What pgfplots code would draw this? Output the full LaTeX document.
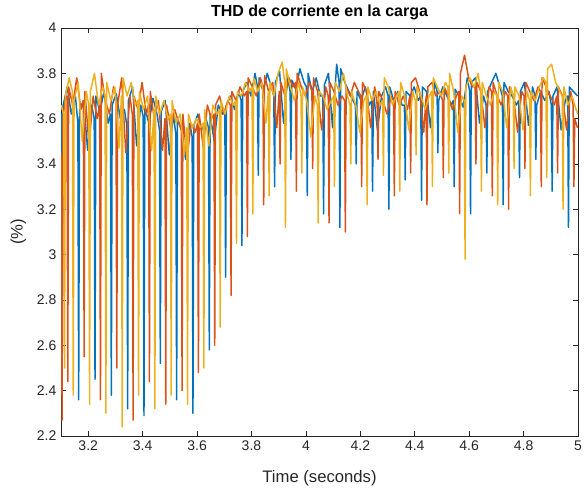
\documentclass[border=0pt]{standalone}
\usepackage{pgfplots}
\pgfplotsset{compat=1.18}
\usepackage{fontspec}
\setmainfont{Liberation Sans}

\definecolor{mblue}{rgb}{0,0.447,0.741}
\definecolor{mred}{rgb}{0.85,0.325,0.098}
\definecolor{myellow}{rgb}{0.929,0.694,0.125}
\definecolor{axgray}{rgb}{0.15,0.15,0.15}

\begin{document}
\begin{tikzpicture}
% marco fijo: 584x491 px a 0.75 pt/px
\useasboundingbox (-45.75pt,-41.25pt) rectangle (392.25pt,327pt);
\begin{axis}[
  scale only axis,
  width=387.75pt, height=306pt,
  xmin=3.1, xmax=5, ymin=2.2, ymax=4,
  xtick={3.2,3.4,...,5.01},
  ytick={2.2,2.4,...,4.01},
  tick align=inside,
  major tick length=3.5pt,
  axis line style={axgray, line width=0.5pt},
  tick style={axgray, line width=0.5pt},
  /pgf/number format/assume math mode=true,
  tick label style={font=\fontsize{10.5}{12}\selectfont, text=axgray},
  title={\bfseries THD de corriente en la carga},
  every axis title/.style={at={(axis description cs:0.5,1.039)}, anchor=center,
    font=\fontsize{12}{14}\selectfont},
  xlabel={Time (seconds)},
  ylabel={(\%)},
  every axis x label/.style={at={(axis description cs:0.5,-0.103)}, anchor=center,
    font=\fontsize{12.5}{14}\selectfont, text=axgray},
  every axis y label/.style={at={(axis description cs:-0.0825,0.5)}, anchor=center,
    rotate=90, font=\fontsize{12.5}{14}\selectfont, text=axgray},
  every axis plot/.append style={line width=1.1pt, line join=round},
]
% azul
\addplot[mblue] coordinates {
(3.100,3.58)
(3.102,3.62)(3.105,2.62)(3.108,3.66)(3.123,3.74)(3.138,3.62)(3.153,3.70)
(3.162,3.58)(3.165,2.36)(3.168,3.64)(3.183,3.68)(3.198,3.46)(3.213,3.66)
(3.222,3.60)(3.225,2.45)(3.228,3.70)(3.243,3.63)(3.258,3.72)(3.273,3.58)
(3.282,3.62)(3.285,2.38)(3.288,3.66)(3.303,3.71)(3.318,3.60)(3.333,3.64)
(3.342,3.57)(3.345,2.32)(3.348,3.68)(3.363,3.74)(3.378,3.48)(3.393,3.66)
(3.402,3.61)(3.405,2.29)(3.408,3.65)(3.423,3.58)(3.438,3.69)(3.453,3.62)
(3.462,3.55)(3.465,2.52)(3.468,3.63)(3.483,3.68)(3.498,3.44)(3.513,3.62)
(3.522,3.53)(3.525,2.36)(3.528,3.60)(3.543,3.55)(3.558,3.42)(3.573,3.58)
(3.582,3.52)(3.585,2.30)(3.588,3.57)(3.603,3.62)(3.618,3.55)(3.633,3.60)
(3.642,3.56)(3.645,2.58)(3.648,3.62)(3.663,3.50)(3.678,3.66)(3.693,3.62)
(3.702,3.64)(3.705,2.90)(3.708,3.66)(3.723,3.70)(3.738,3.64)(3.753,3.72)
(3.762,3.68)(3.765,3.04)(3.768,3.72)(3.783,3.76)(3.798,3.70)(3.813,3.80)
(3.822,3.74)(3.825,3.35)(3.828,3.78)(3.843,3.72)(3.858,3.80)(3.873,3.74)
(3.882,3.70)(3.885,3.30)(3.888,3.76)(3.903,3.81)(3.918,3.58)(3.933,3.78)
(3.942,3.72)(3.945,3.42)(3.948,3.77)(3.963,3.73)(3.978,3.82)(3.993,3.76)
(4.002,3.74)(4.005,3.26)(4.008,3.80)(4.023,3.72)(4.038,3.78)(4.053,3.70)
(4.062,3.70)(4.065,3.18)(4.068,3.75)(4.083,3.80)(4.098,3.56)(4.113,3.84)
(4.122,3.76)(4.125,3.12)(4.128,3.82)(4.143,3.76)(4.158,3.72)(4.173,3.68)
(4.182,3.66)(4.185,3.40)(4.188,3.72)(4.203,3.68)(4.218,3.74)(4.233,3.66)
(4.242,3.68)(4.245,3.28)(4.248,3.72)(4.263,3.55)(4.278,3.70)(4.293,3.74)
(4.302,3.70)(4.305,3.20)(4.308,3.74)(4.323,3.68)(4.338,3.72)(4.353,3.66)
(4.362,3.66)(4.365,3.33)(4.368,3.72)(4.383,3.70)(4.398,3.74)(4.413,3.68)
(4.422,3.70)(4.425,3.24)(4.428,3.74)(4.443,3.72)(4.458,3.56)(4.473,3.76)
(4.482,3.72)(4.485,3.45)(4.488,3.68)(4.503,3.74)(4.518,3.70)(4.533,3.66)
(4.542,3.68)(4.545,3.30)(4.548,3.73)(4.563,3.70)(4.578,3.65)(4.593,3.78)
(4.602,3.72)(4.605,3.18)(4.608,3.76)(4.623,3.78)(4.638,3.58)(4.653,3.70)
(4.662,3.66)(4.665,3.36)(4.668,3.72)(4.683,3.76)(4.698,3.80)(4.713,3.74)
(4.722,3.70)(4.725,3.22)(4.728,3.76)(4.743,3.72)(4.758,3.70)(4.773,3.66)
(4.782,3.68)(4.785,3.34)(4.788,3.72)(4.803,3.76)(4.818,3.57)(4.833,3.74)
(4.842,3.70)(4.845,3.42)(4.848,3.66)(4.863,3.72)(4.878,3.68)(4.893,3.72)
(4.902,3.66)(4.905,3.28)(4.908,3.70)(4.923,3.74)(4.938,3.55)(4.953,3.68)
(4.962,3.70)(4.965,3.12)(4.968,3.74)(4.983,3.72)(4.998,3.70)
};
% naranja
\addplot[mred] coordinates {
(3.100,3.45)(3.104,2.27)(3.107,3.60)(3.115,3.68)
(3.122,3.70)(3.125,2.44)(3.128,3.74)(3.143,3.66)(3.158,3.78)(3.173,3.64)
(3.182,3.68)(3.185,2.55)(3.188,3.72)(3.203,3.48)(3.218,3.70)(3.233,3.60)
(3.242,3.66)(3.245,2.36)(3.248,3.80)(3.263,3.68)(3.278,3.62)(3.293,3.74)
(3.302,3.70)(3.305,2.50)(3.308,3.66)(3.323,3.78)(3.338,3.45)(3.353,3.70)
(3.362,3.62)(3.365,2.27)(3.368,3.70)(3.383,3.64)(3.398,3.76)(3.413,3.62)
(3.422,3.66)(3.425,2.44)(3.428,3.72)(3.443,3.60)(3.458,3.68)(3.473,3.46)
(3.482,3.60)(3.485,2.34)(3.488,3.66)(3.503,3.56)(3.518,3.64)(3.533,3.58)
(3.542,3.55)(3.545,2.40)(3.548,3.62)(3.563,3.42)(3.578,3.58)(3.593,3.54)
(3.602,3.58)(3.605,2.48)(3.608,3.62)(3.623,3.47)(3.638,3.66)(3.653,3.60)
(3.662,3.62)(3.665,2.60)(3.668,3.66)(3.683,3.70)(3.698,3.62)(3.713,3.68)
(3.722,3.66)(3.725,2.82)(3.728,3.72)(3.743,3.68)(3.758,3.74)(3.773,3.70)
(3.782,3.72)(3.785,3.08)(3.788,3.78)(3.803,3.74)(3.818,3.70)(3.833,3.78)
(3.842,3.74)(3.845,3.22)(3.848,3.79)(3.863,3.72)(3.878,3.76)(3.893,3.56)
(3.902,3.72)(3.905,3.40)(3.908,3.76)(3.923,3.70)(3.938,3.78)(3.953,3.74)
(3.962,3.76)(3.965,3.28)(3.968,3.80)(3.983,3.74)(3.998,3.70)(4.013,3.76)
(4.022,3.72)(4.025,3.38)(4.028,3.78)(4.043,3.72)(4.058,3.55)(4.073,3.74)
(4.082,3.70)(4.085,3.14)(4.088,3.76)(4.103,3.72)(4.118,3.66)(4.133,3.70)
(4.142,3.68)(4.145,3.10)(4.148,3.74)(4.163,3.70)(4.178,3.76)(4.193,3.72)
(4.202,3.70)(4.205,3.30)(4.208,3.76)(4.223,3.72)(4.238,3.56)(4.253,3.74)
(4.262,3.66)(4.265,3.42)(4.268,3.72)(4.283,3.68)(4.298,3.62)(4.313,3.70)
(4.322,3.68)(4.325,3.26)(4.328,3.72)(4.343,3.66)(4.358,3.70)(4.373,3.64)
(4.382,3.70)(4.385,3.36)(4.388,3.76)(4.403,3.78)(4.418,3.72)(4.433,3.54)
(4.442,3.70)(4.445,3.22)(4.448,3.74)(4.463,3.76)(4.478,3.70)(4.493,3.72)
(4.502,3.68)(4.505,3.34)(4.508,3.74)(4.523,3.70)(4.538,3.64)(4.553,3.70)
(4.562,3.72)(4.565,3.18)(4.568,3.80)(4.583,3.88)(4.598,3.78)(4.613,3.74)
(4.622,3.74)(4.625,3.40)(4.628,3.76)(4.643,3.72)(4.658,3.56)(4.673,3.74)
(4.682,3.72)(4.685,3.26)(4.688,3.76)(4.703,3.70)(4.718,3.66)(4.733,3.72)
(4.742,3.70)(4.745,3.20)(4.748,3.74)(4.763,3.70)(4.778,3.54)(4.793,3.72)
(4.802,3.70)(4.805,3.38)(4.808,3.76)(4.823,3.72)(4.838,3.68)(4.853,3.74)
(4.862,3.72)(4.865,3.30)(4.868,3.78)(4.883,3.74)(4.898,3.70)(4.913,3.66)
(4.922,3.70)(4.925,3.36)(4.928,3.74)(4.943,3.70)(4.958,3.55)(4.973,3.72)
(4.982,3.66)(4.985,3.30)(4.988,3.60)(4.998,3.56)
};
% amarillo
\addplot[myellow] coordinates {
(3.100,3.66)(3.110,3.62)(3.113,2.50)(3.116,3.70)(3.130,3.78)
(3.142,3.72)(3.145,2.38)(3.148,3.68)(3.163,3.76)(3.178,3.50)(3.193,3.72)
(3.202,3.66)(3.205,2.34)(3.208,3.72)(3.223,3.80)(3.238,3.66)(3.253,3.74)
(3.262,3.70)(3.265,2.30)(3.268,3.76)(3.283,3.68)(3.298,3.74)(3.313,3.47)
(3.322,3.70)(3.325,2.24)(3.328,3.78)(3.343,3.70)(3.358,3.76)(3.373,3.66)
(3.382,3.68)(3.385,2.38)(3.388,3.72)(3.403,3.64)(3.418,3.70)(3.433,3.46)
(3.442,3.64)(3.445,2.32)(3.448,3.70)(3.463,3.62)(3.478,3.68)(3.493,3.60)
(3.502,3.62)(3.505,2.38)(3.508,3.68)(3.523,3.58)(3.538,3.62)(3.553,3.44)
(3.562,3.56)(3.565,2.34)(3.568,3.62)(3.583,3.56)(3.598,3.60)(3.613,3.56)
(3.622,3.58)(3.625,2.50)(3.628,3.64)(3.643,3.48)(3.658,3.66)(3.673,3.62)
(3.682,3.64)(3.685,2.68)(3.688,3.68)(3.703,3.62)(3.718,3.70)(3.733,3.66)
(3.742,3.68)(3.745,3.05)(3.748,3.72)(3.763,3.70)(3.778,3.76)(3.793,3.72)
(3.802,3.74)(3.805,3.18)(3.808,3.78)(3.823,3.72)(3.838,3.76)(3.853,3.58)
(3.862,3.72)(3.865,3.26)(3.868,3.76)(3.883,3.70)(3.898,3.80)(3.913,3.85)
(3.922,3.76)(3.925,3.12)(3.928,3.82)(3.943,3.74)(3.958,3.68)(3.973,3.76)
(3.982,3.70)(3.985,3.36)(3.988,3.74)(4.003,3.68)(4.018,3.52)(4.033,3.70)
(4.042,3.66)(4.045,3.14)(4.048,3.72)(4.063,3.70)(4.078,3.64)(4.093,3.68)
(4.102,3.70)(4.105,3.30)(4.108,3.76)(4.123,3.72)(4.138,3.80)(4.153,3.70)
(4.162,3.66)(4.165,3.40)(4.168,3.72)(4.183,3.66)(4.198,3.54)(4.213,3.68)
(4.222,3.70)(4.225,3.22)(4.228,3.74)(4.243,3.68)(4.258,3.72)(4.273,3.66)
(4.282,3.68)(4.285,3.35)(4.288,3.78)(4.303,3.74)(4.318,3.66)(4.333,3.70)
(4.342,3.72)(4.345,3.28)(4.348,3.76)(4.363,3.70)(4.378,3.55)(4.393,3.72)
(4.402,3.68)(4.405,3.44)(4.408,3.74)(4.423,3.70)(4.438,3.64)(4.453,3.70)
(4.462,3.72)(4.465,3.30)(4.468,3.78)(4.483,3.74)(4.498,3.70)(4.513,3.76)
(4.522,3.74)(4.525,3.36)(4.528,3.80)(4.543,3.72)(4.558,3.54)(4.573,3.70)
(4.582,3.68)(4.585,2.98)(4.588,3.74)(4.603,3.78)(4.618,3.74)(4.633,3.80)
(4.642,3.72)(4.645,3.28)(4.648,3.76)(4.663,3.70)(4.678,3.66)(4.693,3.72)
(4.702,3.70)(4.705,3.22)(4.708,3.76)(4.723,3.72)(4.738,3.56)(4.753,3.74)
(4.762,3.70)(4.765,3.38)(4.768,3.74)(4.783,3.70)(4.798,3.55)(4.813,3.72)
(4.822,3.68)(4.825,3.26)(4.828,3.72)(4.843,3.68)(4.858,3.74)(4.873,3.78)
(4.882,3.76)(4.885,3.34)(4.888,3.82)(4.903,3.84)(4.918,3.76)(4.933,3.72)
(4.942,3.70)(4.945,3.20)(4.948,3.74)(4.963,3.66)(4.978,3.70)(4.993,3.64)
(5.000,3.62)
};
\end{axis}
\end{tikzpicture}
\end{document}
